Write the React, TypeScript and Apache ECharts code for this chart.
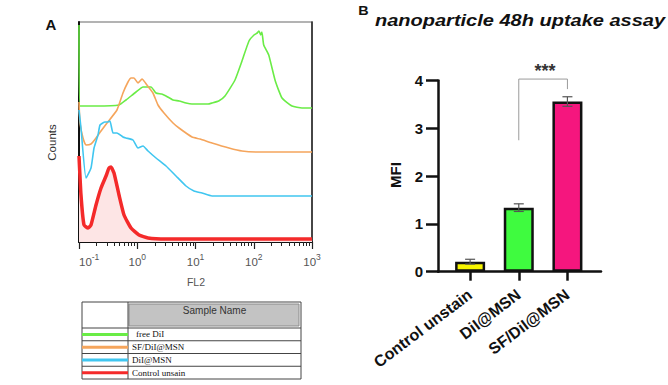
import React, { useEffect, useRef } from "react";
import * as echarts from "echarts";

// ---------- Panel A: flow cytometry overlay (x = log10 FL2, y = counts, offset overlay) ----------
const histNames = ["free DiI", "SF/DiI@MSN", "DiI@MSN", "Control unsain"];
const histColors = ["#6aec46", "#f5a55c", "#40c6f0", "#f42a2a"];

const freeDiI: number[][] = [
  [-1, 217], [-0.983, 136], [-0.88, 136], [-0.708, 136], [-0.313, 137], [-0.193, 142],
  [-0.021, 150], [0.099, 155], [0.236, 155], [0.322, 149], [0.42, 148], [0.494, 146],
  [0.614, 142], [0.72, 141], [0.837, 139], [0.94, 138], [1.215, 138], [1.283, 139],
  [1.398, 141], [1.506, 146], [1.678, 162], [1.798, 181], [1.918, 201], [2.004, 207],
  [2.06, 209], [2.09, 211], [2.12, 207], [2.14, 210], [2.171, 197], [2.257, 187],
  [2.37, 161], [2.485, 144], [2.657, 136], [2.828, 134], [3.0, 134],
];
const sfDiIMsn: number[][] = [
  [-1, 140], [-0.983, 119], [-0.931, 104], [-0.88, 97], [-0.794, 98], [-0.708, 104],
  [-0.622, 111], [-0.519, 119], [-0.348, 132], [-0.245, 149], [-0.159, 160], [-0.107, 164],
  [-0.056, 164], [0.013, 159], [0.082, 163], [0.167, 157], [0.27, 149], [0.356, 137],
  [0.459, 129], [0.614, 119], [0.717, 114], [0.94, 105], [1.077, 103], [1.283, 99],
  [1.575, 94], [1.798, 91], [2.09, 90], [3.0, 90],
];
const diIMsn: number[][] = [
  [-1, 132], [-0.966, 114], [-0.88, 64], [-0.794, 74], [-0.742, 94], [-0.674, 107],
  [-0.639, 117], [-0.554, 120], [-0.502, 120], [-0.468, 121], [-0.416, 109], [-0.348, 109],
  [-0.245, 105], [-0.193, 104], [-0.073, 102], [0.013, 94], [0.099, 96], [0.185, 91],
  [0.322, 84], [0.494, 76], [0.665, 66], [0.837, 56], [0.974, 51], [1.112, 49],
  [1.283, 46], [3.0, 46],
];
const controlUnstain: number[][] = [
  [-1, 86], [-0.966, 47], [-0.914, 17], [-0.845, 14], [-0.794, 17], [-0.708, 37],
  [-0.622, 54], [-0.536, 66], [-0.485, 74], [-0.451, 75], [-0.399, 69], [-0.313, 47],
  [-0.227, 27], [-0.107, 14], [0.03, 7], [0.185, 4], [0.5, 3], [3.0, 3],
];
const histSeries = [freeDiI, sfDiIMsn, diIMsn, controlUnstain];
const fl2Decades = [-1, 0, 1, 2, 3];

// ---------- Panel B: MFI bar chart ----------
const barCategories = ["Control unstain", "DiI@MSN", "SF/DiI@MSN"];
const barValues = [0.21, 1.34, 3.56];
const barErrors = [0.05, 0.08, 0.1];
const barColors = ["#f7f500", "#3ffb3f", "#f5167e"];
const mfiTicks = [0, 1, 2, 3, 4];
const sigPairs = [{ from: 1, to: 2, top: 4.03, fromEnd: 2.75, toEnd: 3.82, label: "***" }];

const SANS = '"Liberation Sans", Arial, Helvetica, sans-serif';
const SERIF = '"Liberation Serif", "Times New Roman", serif';

function minorTicks(): number[] {
  const out: number[] = [];
  for (let n = fl2Decades[0]; n < fl2Decades[fl2Decades.length - 1]; n++) {
    for (let k = 2; k <= 9; k++) out.push(n + Math.log10(k));
  }
  return out;
}

function legendTable() {
  const x = 82, y = 302, w = 219, h = 77, colW = 46, headH = 26;
  const rowH = (h - headH) / histNames.length;
  const children: any[] = [
    { type: "rect", shape: { x, y, width: w, height: h }, style: { fill: "#fff", stroke: "#444", lineWidth: 1 } },
    { type: "rect", shape: { x: x + colW + 1, y: y + 2, width: w - colW - 3, height: headH - 4 }, style: { fill: "#c3c3c3", stroke: "#8a8a8a", lineWidth: 1 } },
    { type: "line", shape: { x1: x + colW, y1: y, x2: x + colW, y2: y + h }, style: { stroke: "#444", lineWidth: 1 } },
    {
      type: "text", x: x + colW + (w - colW) / 2, y: y + 8,
      style: { text: "Sample Name", fill: "#333", fontSize: 10, fontFamily: SANS, align: "center", verticalAlign: "middle", textAlign: "center", textVerticalAlign: "middle" },
    },
  ];
  histNames.forEach((name, i) => {
    const ry = y + headH + i * rowH;
    children.push({ type: "line", shape: { x1: x, y1: ry, x2: x + w, y2: ry }, style: { stroke: "#444", lineWidth: 1 } });
    children.push({ type: "line", shape: { x1: x, y1: ry + rowH / 2, x2: x + colW, y2: ry + rowH / 2 }, style: { stroke: histColors[i], lineWidth: 3 } });
    children.push({
      type: "text", x: x + colW + (i === 0 ? 8 : 4), y: ry + rowH / 2,
      style: { text: name, fill: "#111", fontSize: 9, fontFamily: SERIF, align: "left", verticalAlign: "middle", textAlign: "left", textVerticalAlign: "middle" },
    });
  });
  return { type: "group", children };
}

function txt(text: string, x: number, y: number, extra: any = {}, el: any = {}) {
  return {
    type: "text", x, y, ...el,
    style: { text, align: "center", verticalAlign: "middle", textAlign: "center", textVerticalAlign: "middle", fontFamily: SANS, ...extra },
  };
}

export default function App() {
  const ref = useRef<HTMLDivElement>(null);
  useEffect(() => {
    if (!ref.current) return;
    const chart = echarts.init(ref.current, undefined, { renderer: "svg" });

    const errStyle = { stroke: "#555", lineWidth: 1.2 };

    const option: any = {
      animation: false,
      backgroundColor: "#fff",
      grid: [
        { left: 79, top: 22, width: 233, height: 220, show: true, borderColor: "#9a9a9a", borderWidth: 1.5, outerBoundsMode: "none" },
        { left: 438, top: 80.5, width: 163, height: 191.2, outerBoundsMode: "none" },
      ],
      xAxis: [
        {
          gridIndex: 0, type: "value", min: -1, max: 3, position: "bottom",
          axisLine: { show: true, onZero: false, lineStyle: { color: "#111", width: 2 } },
          axisTick: { show: true, customValues: fl2Decades, length: 7, lineStyle: { color: "#222", width: 1.2 } },
          axisLabel: {
            show: true, customValues: fl2Decades, margin: 10, color: "#555",
            alignMinLabel: "left",
            formatter: (v: number) => `{b|10}{s|${v}}`,
            rich: {
              b: { fontSize: 11.5, fontFamily: SANS, color: "#555", lineHeight: 16, verticalAlign: "bottom" },
              s: { fontSize: 8.5, fontFamily: SANS, color: "#555", lineHeight: 9, verticalAlign: "top" },
            },
          },
          splitLine: { show: false },
        },
        {
          gridIndex: 0, type: "value", min: -1, max: 3, position: "bottom",
          axisLine: { show: false, onZero: false },
          axisTick: { show: true, customValues: minorTicks(), length: 4, lineStyle: { color: "#222", width: 1 } },
          axisLabel: { show: false },
          splitLine: { show: false },
        },
        {
          gridIndex: 1, type: "value", min: -0.66, max: 2.69, position: "bottom",
          axisLine: { show: true, onZero: false, lineStyle: { color: "#111", width: 2.5 } },
          axisTick: { show: true, customValues: [0, 1, 2], length: 9, lineStyle: { color: "#111", width: 2.5 } },
          axisLabel: {
            show: true, customValues: [0, 1, 2], rotate: 37, margin: 21,
            formatter: (v: number) => barCategories[Math.round(v)] ?? "",
            color: "#111", fontSize: 16, fontWeight: "bold", fontFamily: SANS,
          },
          splitLine: { show: false },
        },
      ],
      yAxis: [
        {
          gridIndex: 0, type: "value", min: 0, max: 220, position: "left",
          axisLine: { show: true, onZero: false, lineStyle: { color: "#111", width: 2 } },
          axisTick: { show: false }, axisLabel: { show: false }, splitLine: { show: false },
        },
        {
          gridIndex: 0, type: "value", min: 0, max: 220, position: "right",
          axisLine: { show: true, onZero: false, lineStyle: { color: "#222", width: 1.5 } },
          axisTick: { show: false }, axisLabel: { show: false }, splitLine: { show: false },
        },
        {
          gridIndex: 1, type: "value", min: mfiTicks[0], max: mfiTicks[mfiTicks.length - 1], interval: 1, position: "left",
          axisLine: { show: true, onZero: false, lineStyle: { color: "#111", width: 2.5 } },
          axisTick: { show: true, length: 12, lineStyle: { color: "#111", width: 2.5 } },
          axisLabel: { show: true, margin: 15, color: "#111", fontSize: 15, fontWeight: "bold", fontFamily: SANS },
          splitLine: { show: false },
        },
      ],
      series: [
        ...histSeries.map((d, i) => ({
          type: "line",
          name: histNames[i],
          xAxisIndex: 0, yAxisIndex: 0,
          data: d,
          showSymbol: false, symbol: "none",
          smooth: 0.15,
          lineStyle: { color: histColors[i], width: i === 3 ? 3.5 : 1.6 },
          itemStyle: { color: histColors[i] },
          areaStyle: i === 3 ? { color: "#fde5e5", opacity: 1, origin: "start" } : undefined,
          z: 2 + i,
        })),
        {
          type: "bar",
          xAxisIndex: 2, yAxisIndex: 2,
          barWidth: 30,
          data: barValues.map((v, i) => ({
            value: [i, v],
            itemStyle: { color: barColors[i], borderColor: "#111", borderWidth: 2.5 },
          })),
          z: 3,
        },
        {
          type: "custom",
          xAxisIndex: 2, yAxisIndex: 2,
          data: barValues.map((v, i) => [i, v - barErrors[i], v + barErrors[i]]),
          encode: { x: 0, y: [1, 2] },
          z: 10,
          renderItem: (_p: any, api: any) => {
            const xv = api.value(0);
            const hi = api.coord([xv, api.value(2)]);
            const lo = api.coord([xv, api.value(1)]);
            const hw = 5;
            return {
              type: "group",
              children: [
                { type: "line", shape: { x1: hi[0], y1: hi[1], x2: lo[0], y2: lo[1] }, style: errStyle },
                { type: "line", shape: { x1: hi[0] - hw, y1: hi[1], x2: hi[0] + hw, y2: hi[1] }, style: errStyle },
                { type: "line", shape: { x1: lo[0] - hw, y1: lo[1], x2: lo[0] + hw, y2: lo[1] }, style: errStyle },
              ],
            };
          },
        },
        {
          type: "custom",
          xAxisIndex: 2, yAxisIndex: 2,
          clip: false,
          data: sigPairs.map((s) => [s.from, s.to, s.top, s.fromEnd, s.toEnd]),
          encode: { x: [0, 1], y: [2, 3, 4] },
          z: 10,
          renderItem: (params: any, api: any) => {
            const a0 = api.coord([api.value(0), api.value(3)]);
            const a1 = api.coord([api.value(0), api.value(2)]);
            const b1 = api.coord([api.value(1), api.value(2)]);
            const b0 = api.coord([api.value(1), api.value(4)]);
            const label = sigPairs[params.dataIndex].label;
            return {
              type: "group",
              children: [
                { type: "polyline", shape: { points: [a0, a1, b1, b0] }, style: { stroke: "#9a9a9a", lineWidth: 1, fill: "none" } },
                {
                  type: "text", x: (a1[0] + b1[0]) / 2 + 2, y: a1[1] - 8,
                  style: { text: label, fill: "#333", fontSize: 18, fontWeight: "bold", fontFamily: SANS, align: "center", verticalAlign: "middle", textAlign: "center", textVerticalAlign: "middle" },
                },
              ],
            };
          },
        },
      ],
      graphic: [
        txt("A", 51, 24, { fontSize: 15, fontWeight: "bold", fill: "#111" }),
        txt("B", 363.5, 11, { fontSize: 12.5, fontWeight: "bold", fill: "#111" }, { scaleX: 1.15 }),
        {
          type: "text", x: 375, y: 21, scaleX: 1.25,
          style: {
            text: "nanoparticle 48h uptake assay", fill: "#111", fontSize: 16, fontWeight: "bold", fontStyle: "italic",
            fontFamily: SANS, align: "left", verticalAlign: "middle", textAlign: "left", textVerticalAlign: "middle",
          },
        },
        txt("Counts", 52, 142.5, { fontSize: 11.5, fill: "#333" }, { rotation: Math.PI / 2 }),
        txt("FL2", 196, 282, { fontSize: 10.5, fill: "#555" }),
        txt("MFI", 395, 175, { fontSize: 15, fontWeight: "bold", fill: "#111" }, { rotation: Math.PI / 2 }),
        legendTable(),
      ],
    };

    chart.setOption(option);
    return () => chart.dispose();
  }, []);

  return (
    <div
      ref={ref}
      style={{ position: "fixed", left: 0, top: 0, width: 668, height: 385, background: "#fff" }}
    />
  );
}
